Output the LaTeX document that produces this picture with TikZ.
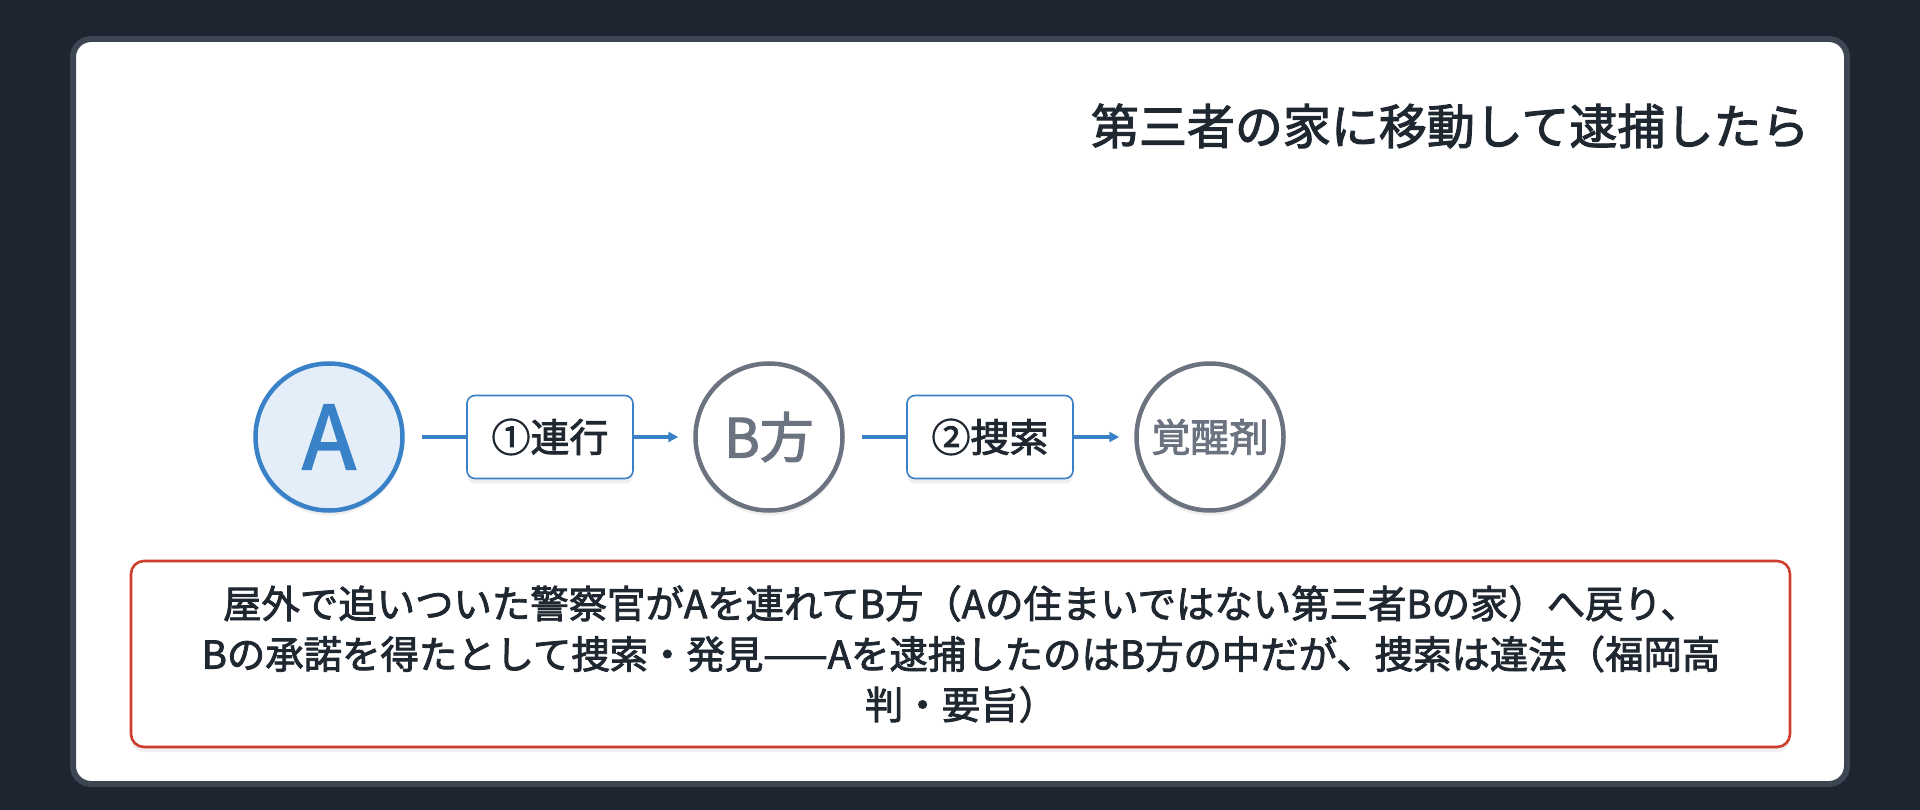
\documentclass[tikz,border=0pt]{standalone}
\usepackage{fontspec}
\setmainfont{Noto Sans CJK JP}[FakeBold=2.2]
\usetikzlibrary{arrows.meta,shadows}
\definecolor{pagebg}{HTML}{1E2430}
\definecolor{cardline}{HTML}{3D4553}
\definecolor{inktext}{HTML}{1F2730}
\definecolor{stepblue}{HTML}{3A82C8}
\definecolor{paleblue}{HTML}{E4EEF9}
\definecolor{stepgray}{HTML}{6B7280}
\definecolor{notered}{HTML}{CC3E2B}

\begin{document}
\begin{tikzpicture}[x=1pt,y=-1pt,
    soft/.style={drop shadow={opacity=0.12,shadow xshift=0pt,shadow yshift=-5pt}},
    station/.style={circle,minimum size=147pt,inner sep=0pt,line width=4.5pt,draw=stepgray,fill=white,text=stepgray,soft},
    actbox/.style={rectangle,rounded corners=8pt,draw=stepblue,line width=1.6pt,fill=white,text=inktext,minimum width=166pt,minimum height=83pt,inner sep=0pt,font=\fontsize{39}{46}\selectfont,soft},
    flow/.style={draw=stepblue,line width=3.5pt},
    flowtip/.style={flow,-{Triangle[length=10pt,width=10pt]}}]
            \useasboundingbox (0,0) rectangle (1920,810);
            \fill[pagebg] (0,0) rectangle (1920,810);
            \draw[cardline,line width=6pt,fill=white,rounded corners=18pt] (73,39) rectangle (1847,784);
            \node[anchor=east,text=inktext,font=\fontsize{48}{54}\selectfont] (title) at (1813,126) {第三者の家に移動して逮捕したら};
            % the chain
            \node[station,draw=stepblue,fill=paleblue,text=stepblue,font=\fontsize{88}{96}\selectfont] (who) at (329,437) {A};
            \node[actbox] (take) at (550,437) {①連行};
            \node[station,font=\fontsize{54}{60}\selectfont] (house) at (769,437) {B方};
            \node[actbox] (search) at (990,437) {②捜索};
            \node[station,font=\fontsize{39}{46}\selectfont] (drug) at (1210,437) {覚醒剤};
            \draw[flow] ([xshift=17pt]who.east) -- (take.west);
            \draw[flowtip] (take.east) -- ([xshift=-15pt]house.west);
            \draw[flow] ([xshift=17pt]house.east) -- (search.west);
            \draw[flowtip] (search.east) -- ([xshift=-15pt]drug.west);
            % the note
            \draw[notered,line width=2.6pt,fill=white,rounded corners=13pt,soft] (131,561) rectangle (1790,747);
            \node[align=center,text=inktext,font=\fontsize{38.4}{50.5}\selectfont] (note) at (961,654) {屋外で追いついた警察官がAを連れてB方（Aの住まいではない第三者Bの家）へ戻り、\\Bの承諾を得たとして捜索・発見——Aを逮捕したのはB方の中だが、捜索は違法（福岡高\\判・要旨）};
        \end{tikzpicture}
\end{document}
